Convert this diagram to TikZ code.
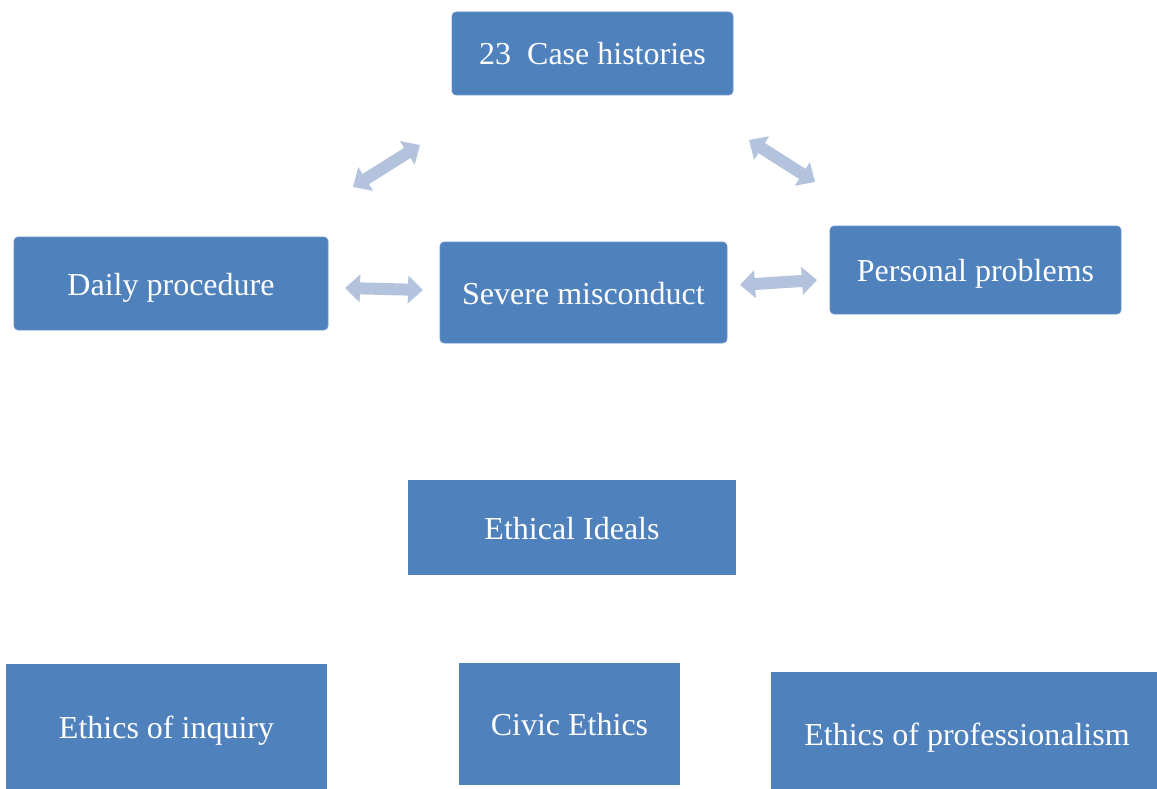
\documentclass[tikz,border=0pt]{standalone}
\usepackage{fontspec}
\setmainfont{Liberation Serif}
\usetikzlibrary{arrows.meta,positioning}
\definecolor{boxC}{HTML}{4F81BD}
\definecolor{boxEdge}{HTML}{6B96CB}
\definecolor{arrC}{HTML}{B3C3DE}
\tikzset{
  caseBox/.style={draw=boxEdge,fill=boxC,line width=0.6pt,rounded corners=4pt,
    text=white,font=\fontsize{32}{36}\selectfont,inner sep=0pt,align=center,
    text height=24pt,text depth=1pt},
  idealBox/.style={fill=boxC,text=white,font=\fontsize{32}{36}\selectfont,
    inner sep=0pt,align=center,text height=24pt,text depth=1pt},
  dblArrow/.style={draw=arrC,line width=12pt,
    {Triangle[length=15pt,width=27pt]}-{Triangle[length=15pt,width=27pt]}},
}

\begin{document}
\begin{tikzpicture}[x=1pt,y=-1pt]
\clip (0,0) rectangle (1157,789);
\fill[white] (0,0) rectangle (1157,789);

% ---------- case histories ----------
\node[caseBox,minimum width=281pt,minimum height=83pt] (cases) at (592.5,53.5) {23\ \ Case histories};
\node[caseBox,minimum width=314pt,minimum height=93pt] (daily) at (171,283.5) {Daily procedure};
\node[caseBox,minimum width=287pt,minimum height=101pt] (severe) at (583.5,292.5) {Severe misconduct};
\node[caseBox,minimum width=291pt,minimum height=88pt] (personal) at (975.5,270) {Personal problems};

% arrow ends (they float between the boxes)
\coordinate (cdA) at (420,145); \coordinate (cdB) at (353,187);
\coordinate (cpA) at (749,140); \coordinate (cpB) at (815,182);
\coordinate (dsA) at (345,288); \coordinate (dsB) at (423,290);
\coordinate (spA) at (740,285); \coordinate (spB) at (817,280);
\draw[dblArrow] (cdA) -- (cdB);
\draw[dblArrow] (cpA) -- (cpB);
\draw[dblArrow] (dsA) -- (dsB);
\draw[dblArrow] (spA) -- (spB);

% ---------- ethical ideals ----------
\node[idealBox,minimum width=328pt,minimum height=95pt] (ideals) at (572,527.5) {Ethical Ideals};
\node[idealBox,minimum width=321pt,minimum height=126pt] (inquiry) at (166.5,727) {Ethics of inquiry};
\node[idealBox,minimum width=221pt,minimum height=122pt] (civic) at (569.5,724) {Civic Ethics};
\node[idealBox,minimum width=392pt,minimum height=124pt] (profess) at (967,734) {Ethics of professionalism};

\end{tikzpicture}
\end{document}
